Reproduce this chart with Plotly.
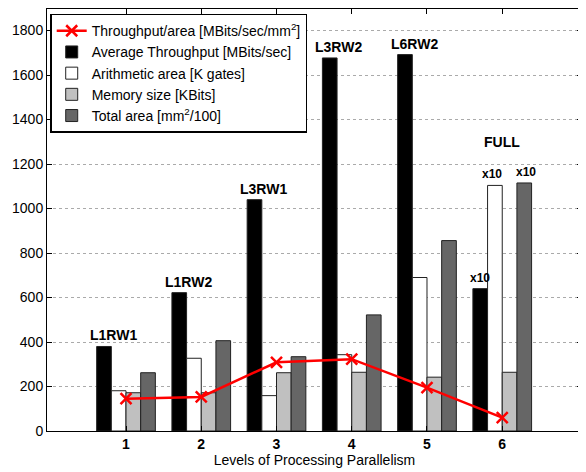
import plotly.graph_objects as go

levels = [1, 2, 3, 4, 5, 6]
avg_throughput = [380, 622, 1040, 1677, 1692, 640]
arith_area = [181, 327, 159, 343, 690, 1104]
memory_size = [172, 172, 262, 264, 242, 264]
total_area = [262, 406, 334, 522, 856, 1115]
throughput_per_area = [145, 153, 309, 323, 195, 60]
config_labels = ["L1RW1", "L1RW2", "L3RW1", "L3RW2", "L6RW2", ""]
y_ticks = [0, 200, 400, 600, 800, 1000, 1200, 1400, 1600, 1800]

FONT = "Liberation Sans, Arial, sans-serif"
fig = go.Figure()

bar_specs = [
    ("Average Throughput [MBits/sec]", avg_throughput, "#000000"),
    ("Arithmetic area [K gates]", arith_area, "#ffffff"),
    ("Memory size [KBits]", memory_size, "#c0c0c0"),
    ("Total area [mm<sup>2</sup>/100]", total_area, "#666666"),
]
for rank, (name, vals, col) in enumerate(bar_specs, start=2):
    fig.add_trace(go.Bar(
        x=levels, y=vals, name=name, marker_color=col, legendrank=rank,
        marker_line=dict(color="#222222", width=1),
    ))
fig.add_trace(go.Scatter(
    x=levels, y=throughput_per_area, mode="lines+markers", legendrank=1,
    name="Throughput/area [MBits/sec/mm<sup>2</sup>]",
    line=dict(color="#ff0000", width=2.5),
    marker=dict(symbol="x-thin", size=11, line=dict(color="#ff0000", width=2.5)),
))

annotations = []
for x, lab, v in zip(levels, config_labels, avg_throughput):
    if lab:
        annotations.append(dict(x=x - 0.17, y=v, text=f"<b>{lab}</b>", showarrow=False,
                                yanchor="bottom", yshift=1, font=dict(size=14, family=FONT, color="black")))
annotations.append(dict(x=6, y=total_area[5], text="<b>FULL</b>", showarrow=False,
                        yanchor="bottom", yshift=31, font=dict(size=14, family=FONT, color="black")))
for dx, v in [(-0.29, avg_throughput[5]), (-0.13, arith_area[5]), (0.31, total_area[5])]:
    annotations.append(dict(x=6 + dx, y=v, text="<b>x10</b>", showarrow=False,
                            yanchor="bottom", yshift=2, font=dict(size=12, family=FONT, color="black")))

# the page body has an 8px margin, so the figure is sized to fit the remaining window
fig.update_layout(
    width=578, height=464,
    margin=dict(l=39, r=4, t=1, b=41),
    paper_bgcolor="white", plot_bgcolor="white",
    barmode="group", bargap=0.22, bargroupgap=0,
    font=dict(family=FONT, color="black", size=14),
    showlegend=True,
    legend=dict(x=0.006, y=0.989, xanchor="left", yanchor="top",
                bordercolor="black", borderwidth=1.5, bgcolor="white",
                font=dict(size=14, family=FONT), tracegroupgap=0,
                itemwidth=30, traceorder="normal"),
    annotations=annotations,
)
fig.update_xaxes(
    range=[-0.05, 7.06], tickvals=levels, ticktext=[f"<b>{v}</b>" for v in levels],
    tickfont=dict(size=14), ticks="inside", ticklen=5, tickcolor="black",
    showline=True, linecolor="black", linewidth=1, mirror="allticks",
    showgrid=False, zeroline=False,
    title=dict(text="Levels of Processing Parallelism", font=dict(size=14), standoff=4),
)
fig.update_yaxes(
    range=[0, 1897], tickvals=y_ticks, ticks="inside", ticklen=5, tickcolor="black",
    tickfont=dict(size=14),
    showline=True, linecolor="black", linewidth=1, mirror="allticks",
    showgrid=True, gridcolor="#aaaaaa", griddash="dot", gridwidth=1, zeroline=False,
)
fig.write_html("out.html")
